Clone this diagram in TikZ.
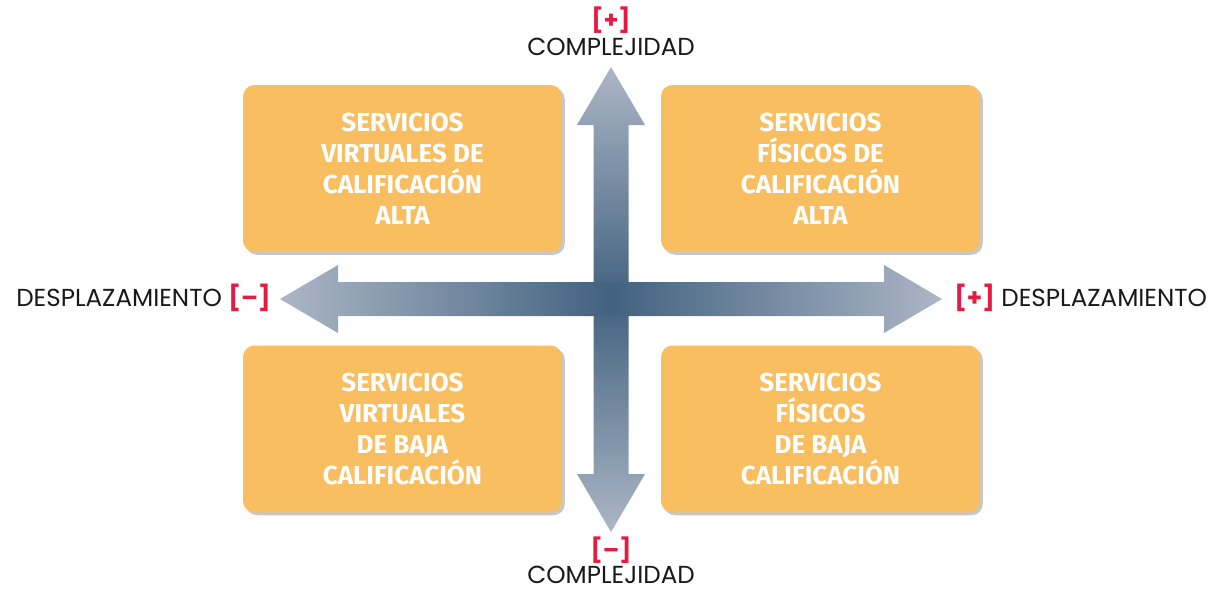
\documentclass[tikz,border=0pt]{standalone}
\usepackage{fontspec}
\setmainfont{Poppins}
\newfontfamily\boxfont{Fira Sans}
\usepackage{xcolor}
\usetikzlibrary{shadows,positioning}

\definecolor{boxorange}{RGB}{249,190,96}
\definecolor{crossdark}{RGB}{66,98,127}
\definecolor{crosslight}{RGB}{172,182,198}
\definecolor{signred}{RGB}{228,28,68}

\tikzset{
  quadbox/.style={draw=none, fill=boxorange, rounded corners=6.5pt,
    minimum width=6.38cm, minimum height=3.34cm, text=white, align=center,
    font=\boxfont\bfseries\fontsize{14.8}{17.6}\selectfont,
    drop shadow={shadow xshift=1.6pt, shadow yshift=-1.6pt, opacity=0.22, fill=black}},
  axislabel/.style={font=\fontsize{14}{16}\selectfont, text=black!90, inner sep=0pt},
  sign/.style={font=\bfseries\fontsize{13.5}{16}\selectfont, text=signred, inner sep=0pt}
}

\begin{document}
\begin{tikzpicture}[x=0.02cm, y=-0.02cm]
    \useasboundingbox (0,0) rectangle (1219,592);

    % vertical arrow
    \shade[top color=crosslight, bottom color=crosslight, middle color=crossdark]
      (611,67) -- (645,125) -- (628.5,125) -- (628.5,474) -- (645,474) -- (611,532)
      -- (577,474) -- (593.5,474) -- (593.5,125) -- (577,125) -- cycle;
    % horizontal arrow
    \shade[left color=crosslight, right color=crosslight, middle color=crossdark]
      (280,299) -- (338,265) -- (338,282) -- (884,282) -- (884,265) -- (942,299)
      -- (884,333) -- (884,316) -- (338,316) -- (338,333) -- cycle;

    \node[quadbox] (va) at (402.5,168.5) {SERVICIOS\\VIRTUALES DE\\CALIFICACIÓN\\ALTA};
    \node[quadbox] (fa) at (820.5,168.5) {SERVICIOS\\FÍSICOS DE\\CALIFICACIÓN\\ALTA};
    \node[quadbox] (vb) at (402.5,429) {SERVICIOS\\VIRTUALES\\DE BAJA\\CALIFICACIÓN};
    \node[quadbox] (fb) at (820.5,429) {SERVICIOS\\FÍSICOS\\DE BAJA\\CALIFICACIÓN};

    \node[sign] (topsign) at (611,20) {[+]};
    \node[axislabel] (toplabel) at (611,47) {COMPLEJIDAD};
    \node[sign] (botsign) at (611,550) {[–]};
    \node[axislabel] (botlabel) at (611,575) {COMPLEJIDAD};

    \node[axislabel, anchor=east] (leftlabel) at (271,298)
      {DESPLAZAMIENTO {\color{signred}\bfseries[–]}};
    \node[axislabel, anchor=west] (rightlabel) at (954,298)
      {{\color{signred}\bfseries[+]} DESPLAZAMIENTO};
\end{tikzpicture}
\end{document}
